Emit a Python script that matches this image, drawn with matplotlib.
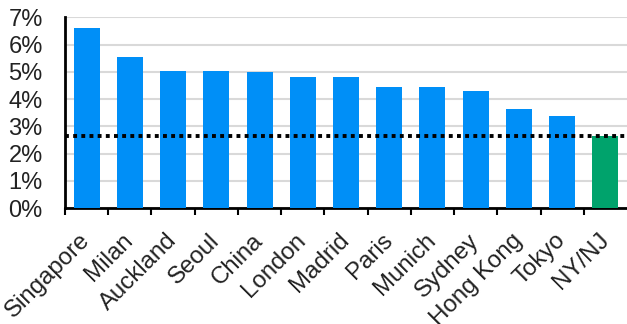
import matplotlib
matplotlib.use("Agg")
import matplotlib.pyplot as plt
from matplotlib.ticker import FuncFormatter

cities = ["Singapore", "Milan", "Auckland", "Seoul", "China", "London", "Madrid",
          "Paris", "Munich", "Sydney", "Hong Kong", "Tokyo", "NY/NJ"]
values = [6.59, 5.53, 5.04, 5.04, 4.99, 4.80, 4.80, 4.44, 4.44, 4.29, 3.62, 3.37, 2.66]
reference_level = 2.64
highlight = "NY/NJ"

blue = "#008ff7"
green = "#00a36c"

plt.rcParams['font.family'] = ['Liberation Sans', 'DejaVu Sans']

fig = plt.figure(figsize=(6.27, 3.24), dpi=100)
ax = fig.add_axes([0.1037, 0.358, 0.8963, 0.5886])

colors = [green if c == highlight else blue for c in cities]
x = list(range(len(cities)))
ax.bar(x, values, width=0.6, color=colors, zorder=3)

ax.axhline(reference_level, color="black", linewidth=2.8, linestyle=(0, (1, 1.1)), zorder=4)

ax.set_xlim(-0.5, len(cities) - 0.5)
ax.set_ylim(0, 7)
ax.set_yticks(range(0, 8))
ax.yaxis.set_major_formatter(FuncFormatter(lambda v, p: f"{int(v)}%"))
ax.grid(axis="y", color="#d9d9d9", linewidth=1.5, zorder=0)
ax.set_axisbelow(True)

# x ticks at category boundaries, labels centered on bars
ax.set_xticks([i + 0.5 for i in x[:-1]] + [-0.5])
ax.set_xticks(x, minor=True)
ax.set_xticklabels([])
ax.set_xticklabels(cities, minor=True, rotation=45, ha="right", va="center",
                   rotation_mode="anchor", fontsize=17.3)
ax.tick_params(axis="x", which="major", length=5, width=1.5, color="black", direction="out")
ax.tick_params(axis="x", which="minor", length=0, pad=21)
ax.tick_params(axis="y", length=0, pad=16, labelsize=17, labelcolor="#222222")
for lbl in ax.get_xticklabels(minor=True):
    lbl.set_color("#222222")

for s in ["top", "right"]:
    ax.spines[s].set_visible(False)
ax.spines["left"].set_linewidth(2)
ax.spines["bottom"].set_linewidth(2)

fig.savefig("out.png", dpi=100)
